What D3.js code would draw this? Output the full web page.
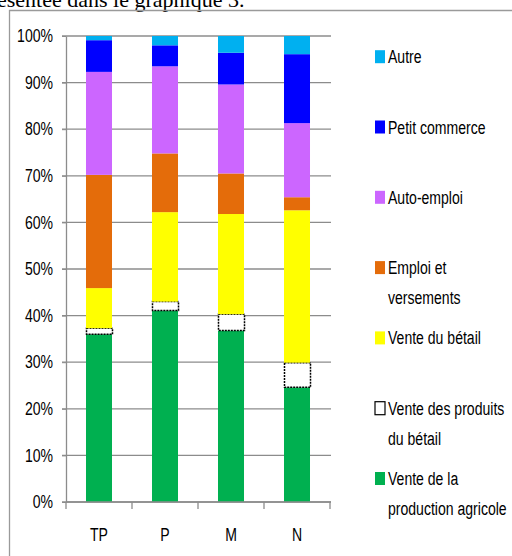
<!DOCTYPE html>
<html>
<head>
<meta charset="utf-8">
<script src="https://cdn.jsdelivr.net/npm/d3@7"></script>
<style>
  body { margin: 0; background: #fff; }
  svg { display: block; }
  text { font-family: "Liberation Sans", Arial, sans-serif; }
</style>
</head>
<body>
<svg width="512" height="556"></svg>
<script>
// categories (x axis)
var categories = ["TP", "P", "M", "N"];

// series, bottom to top in the stack
var seriesNames = ["Vente de la production agricole", "Vente des produits du bétail", "Vente du bétail",
  "Emploi et versements", "Auto-emploi", "Petit commerce", "Autre"];

// share per category (%)
var agricole   = [36.0, 41.1, 36.8, 24.6];
var produits   = [1.3, 1.9, 3.5, 5.3];
var betail     = [8.6, 19.2, 21.5, 32.7];
var emploi     = [24.3, 12.6, 8.7, 2.8];
var autoEmploi = [22.1, 18.7, 19.1, 15.9];
var commerce   = [6.8, 4.5, 6.8, 14.8];
var autre      = [0.9, 2.0, 3.6, 3.9];

var yTicks = [0, 0.1, 0.2, 0.3, 0.4, 0.5, 0.6, 0.7, 0.8, 0.9, 1];

// legend lines (top to bottom)
var legendLines = [["Autre"], ["Petit commerce"], ["Auto-emploi"], ["Emploi et", "versements"],
  ["Vente du bétail"], ["Vente des produits", "du bétail"], ["Vente de la", "production agricole"]];

var colors = ["#00b050", "#ffffff", "#ffff00", "#e46c0a", "#cc66ff", "#0000ff", "#00b0f0"];

var svg = d3.select("svg");

// squeeze a text horizontally (the original font is a narrow one)
function narrow(sel) {
  sel.each(function() {
    var len = this.getComputedTextLength();
    d3.select(this).attr("textLength", len * 0.78).attr("lengthAdjust", "spacingAndGlyphs");
  });
}

// bits of the page around the chart
svg.append("text").attr("x", -3).attr("y", 7)
  .style("font-family", "'Liberation Serif', 'Times New Roman', serif")
  .style("font-size", "22px").attr("fill", "#000")
  .text("ésentée dans le graphique 3.");
svg.append("path").attr("d", "M9.5,560 V10.5 H520")
  .attr("fill", "none").attr("stroke", "#9a9a9a").attr("stroke-width", 1.3);

var rows = [agricole, produits, betail, emploi, autoEmploi, commerce, autre];
var data = categories.map(function(c, i) {
  var d = { cat: c };
  seriesNames.forEach(function(s, k) { d[s] = rows[k][i] / 100; });
  return d;
});

var plotLeft = 66, plotRight = 330, plotTop = 36, plotBottom = 502;

var x = d3.scaleBand().domain(categories).range([plotLeft, plotRight]).paddingInner(0.606).paddingOuter(0.303);
var y = d3.scaleLinear().domain([0, 1]).range([plotBottom, plotTop]);

// grid lines
svg.append("g").selectAll("line").data(yTicks).enter().append("line")
  .attr("x1", plotLeft - 4).attr("x2", plotRight + 1)
  .attr("y1", function(d) { return y(d); }).attr("y2", function(d) { return y(d); })
  .attr("stroke", "#8c8c8c").attr("stroke-width", 1.3);

// y axis
var yAxis = svg.append("g").attr("transform", "translate(" + plotLeft + ",0)")
  .call(d3.axisLeft(y).tickValues(yTicks).tickFormat(d3.format(".0%")).tickSize(4).tickSizeOuter(0).tickPadding(9));
yAxis.select(".domain").attr("stroke", "#8c8c8c").attr("stroke-width", 1.3);
yAxis.selectAll(".tick line").attr("stroke", "#8c8c8c");
yAxis.selectAll("text").style("font-size", "18px").attr("fill", "#000")
  .style("font-family", "'Liberation Sans', sans-serif").call(narrow);

// stacked bars
var stack = d3.stack().keys(seriesNames);
var layers = stack(data);

var g = svg.append("g");
layers.forEach(function(layer, k) {
  var sel = g.selectAll(".s" + k).data(layer).enter().append("rect")
    .attr("class", "s" + k)
    .attr("x", function(d) { return x(d.data.cat); })
    .attr("width", x.bandwidth())
    .attr("y", function(d) { return y(d[1]); })
    .attr("height", function(d) { return y(d[0]) - y(d[1]); })
    .attr("fill", colors[k]);
  if (k == 1) {
    sel.attr("x", function(d) { return x(d.data.cat) + 0.5; })
      .attr("stroke", "#000").attr("stroke-width", 1.5).attr("stroke-dasharray", "2,1");
  }
});

// x axis
svg.append("line").attr("x1", plotLeft).attr("x2", plotRight + 1).attr("y1", plotBottom).attr("y2", plotBottom)
  .attr("stroke", "#8c8c8c").attr("stroke-width", 1.3);
var bounds = categories.map(function(c) { return x(c) - x.step() * x.paddingInner() / 2; });
bounds.push(plotRight);
svg.append("g").selectAll("line").data(bounds).enter().append("line")
  .attr("x1", function(d) { return d; }).attr("x2", function(d) { return d; })
  .attr("y1", plotBottom).attr("y2", plotBottom + 7)
  .attr("stroke", "#8c8c8c").attr("stroke-width", 1.3);
svg.append("g").selectAll("text").data(categories).enter().append("text")
  .attr("x", function(d) { return x(d) + x.bandwidth() / 2; })
  .attr("y", 541).attr("text-anchor", "middle")
  .style("font-size", "18px").text(function(d) { return d; }).call(narrow);

// legend
var legend = svg.append("g");
legendLines.forEach(function(lines, i) {
  var k = seriesNames.length - 1 - i;
  var cy = 56.7 + i * 70.3;
  legend.append("rect").attr("x", 375).attr("y", cy - 6.5).attr("width", 10).attr("height", 13)
    .attr("fill", colors[k])
    .attr("stroke", k == 1 ? "#000" : "none").attr("stroke-width", 1.2);
  lines.forEach(function(t, j) {
    legend.append("text").attr("x", 388).attr("y", cy + 6.5 + j * 30)
      .style("font-size", "18px").attr("fill", "#000").text(t).call(narrow);
  });
});
</script>
</body>
</html>
